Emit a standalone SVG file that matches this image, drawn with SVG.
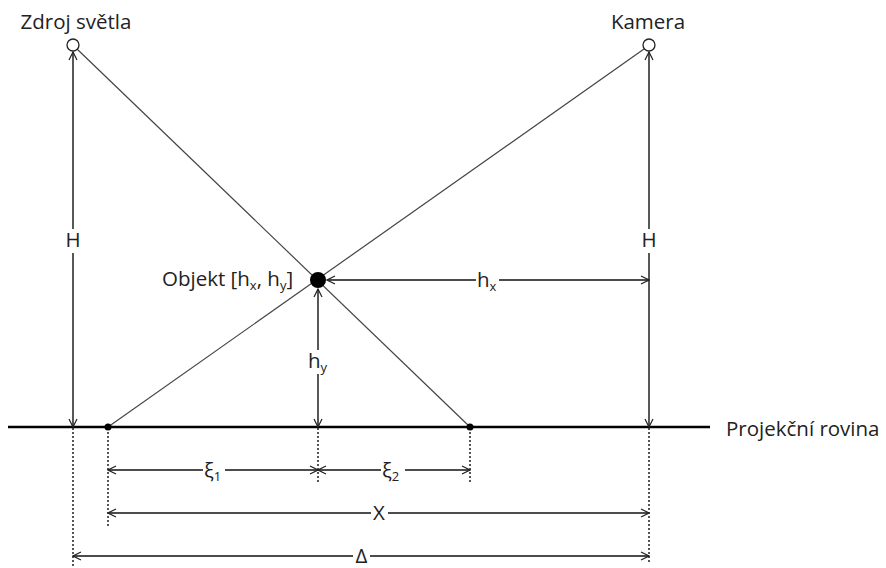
<svg xmlns="http://www.w3.org/2000/svg" width="886" height="568" viewBox="0 0 886 568">
<style>
text{font-family:"Open Sans","Liberation Sans",Arial,sans-serif;fill:#222;font-size:20.5px}
.lbl{text-anchor:middle}
.dim{stroke:#111;stroke-width:1.4;fill:none;marker-start:url(#a);marker-end:url(#a)}
.diag{stroke:#444;stroke-width:1.2;fill:none}
.dot{stroke:#111;stroke-width:1.4;stroke-dasharray:2 2;fill:none}
.bg{fill:#fff}
.sub{font-size:13px}
</style>
<defs>
<marker id="a" viewBox="0 0 10 10" refX="9" refY="5" markerWidth="10" markerHeight="10" markerUnits="userSpaceOnUse" orient="auto-start-reverse">
<path d="M1,1 L9,5 L1,9" fill="none" stroke="#222" stroke-width="1.2"/>
</marker>
</defs>
<g id="connectors">
<line class="diag" x1="77" y1="49" x2="470" y2="427"/>
<line class="diag" x1="644" y1="49" x2="108" y2="427"/>
<line x1="8" y1="427" x2="710" y2="427" stroke="#000" stroke-width="2.5"/>
<line class="dim" x1="73" y1="52" x2="73" y2="427"/>
<line class="dim" x1="649" y1="52" x2="649" y2="427"/>
<line class="dim" x1="327" y1="280" x2="649" y2="280"/>
<line class="dim" x1="318" y1="289" x2="318" y2="427"/>
<line class="dot" x1="73" y1="428" x2="73" y2="568"/>
<line class="dot" x1="108" y1="428" x2="108" y2="527"/>
<line class="dot" x1="318" y1="428" x2="318" y2="483"/>
<line class="dot" x1="470" y1="428" x2="470" y2="483"/>
<line class="dot" x1="649" y1="428" x2="649" y2="563"/>
<line class="dim" x1="108" y1="470" x2="318" y2="470"/>
<line class="dim" x1="318" y1="470" x2="470" y2="470"/>
<line class="dim" x1="108" y1="513" x2="649" y2="513"/>
<line class="dim" x1="73" y1="556" x2="649" y2="556"/>
</g>
<g id="source">
<circle cx="73" cy="45" r="6" fill="#fff" stroke="#222" stroke-width="1.3"/>
<text class="lbl" x="76" y="29">Zdroj světla</text>
</g>
<g id="camera">
<circle cx="649" cy="45" r="6" fill="#fff" stroke="#222" stroke-width="1.3"/>
<text class="lbl" x="648" y="29">Kamera</text>
</g>
<g id="object">
<circle cx="318" cy="280" r="8" fill="#000"/>
<text x="162" y="286">Objekt [h<tspan class="sub" dy="4">x</tspan><tspan dy="-4">, h</tspan><tspan class="sub" dy="4">y</tspan><tspan dy="-4">]</tspan></text>
</g>
<g id="point-left"><circle cx="108" cy="427" r="3.5" fill="#000"/></g>
<g id="point-right"><circle cx="470" cy="427" r="3.5" fill="#000"/></g>
<g id="plane"><text x="726" y="436">Projekční rovina</text></g>
<g id="labels">
<rect class="bg" x="63" y="229" width="20" height="24"/>
<text class="lbl" x="73" y="247">H</text>
<rect class="bg" x="639" y="229" width="20" height="24"/>
<text class="lbl" x="649" y="247">H</text>
<rect class="bg" x="476" y="270" width="23" height="20"/>
<text x="477" y="287">h<tspan class="sub" dy="4">x</tspan></text>
<rect class="bg" x="306" y="350" width="24" height="24"/>
<text x="308" y="368">h<tspan class="sub" dy="4">y</tspan></text>
<rect class="bg" x="203" y="460" width="22" height="22"/>
<text x="204" y="477">ξ<tspan class="sub" dy="4">1</tspan></text>
<rect class="bg" x="381" y="460" width="24" height="22"/>
<text x="382" y="477">ξ<tspan class="sub" dy="4">2</tspan></text>
<rect class="bg" x="371" y="503" width="17" height="20"/>
<text class="lbl" x="379" y="520">X</text>
<rect class="bg" x="353" y="546" width="17" height="20"/>
<text class="lbl" x="361.5" y="563">Δ</text>
</g>
</svg>
